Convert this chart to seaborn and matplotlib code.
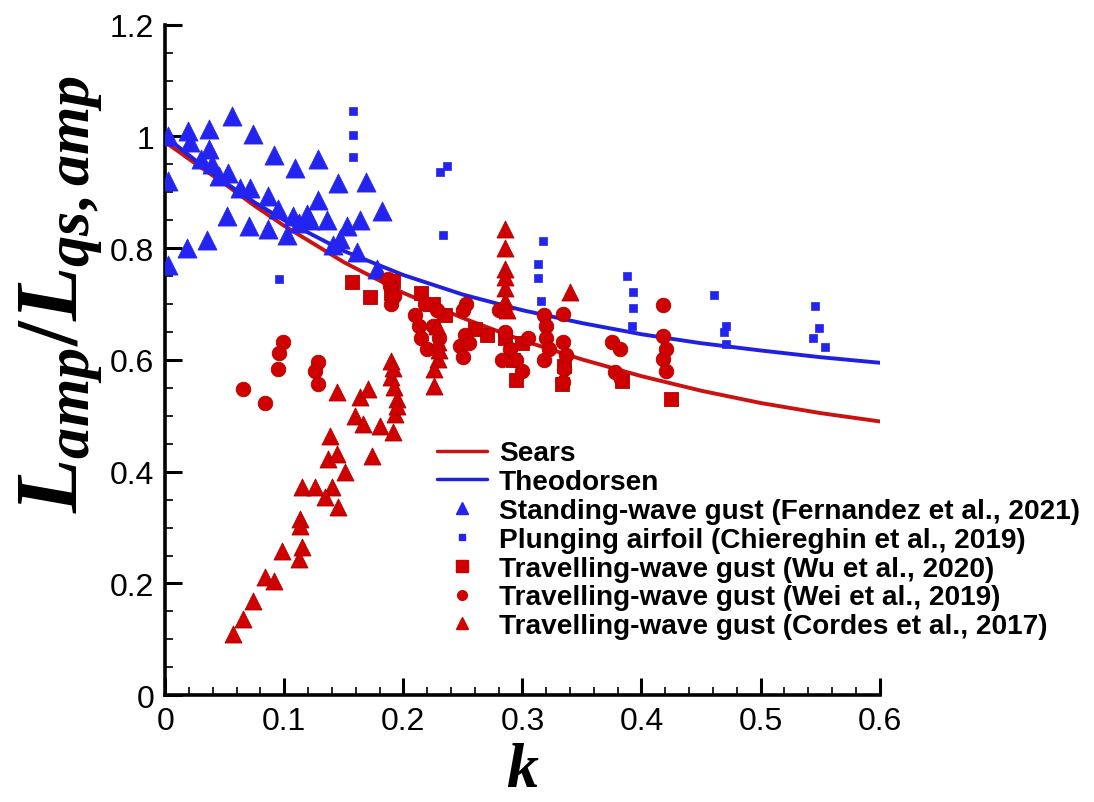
import matplotlib
matplotlib.use("Agg")
import matplotlib.pyplot as plt
import seaborn as sns
import pandas as pd
from matplotlib.lines import Line2D
from matplotlib.ticker import MultipleLocator, FormatStrFormatter

# ---------------- data ----------------
curve_k = [0.0, 0.025, 0.05, 0.075, 0.1, 0.15, 0.2, 0.25, 0.3, 0.35, 0.4, 0.45, 0.5, 0.55, 0.6]
sears_v = [0.99, 0.952, 0.915, 0.876, 0.84, 0.775, 0.72, 0.675, 0.635, 0.601, 0.571, 0.545, 0.523, 0.505, 0.49]
theo_v = [1.0, 0.958, 0.918, 0.882, 0.85, 0.795, 0.752, 0.717, 0.689, 0.666, 0.646, 0.630, 0.617, 0.605, 0.595]

fern_k = [0.002, 0.002, 0.002, 0.019, 0.021, 0.018, 0.037, 0.037, 0.035, 0.039, 0.056, 0.053, 0.052,
          0.074, 0.070, 0.063, 0.071, 0.086, 0.091, 0.086, 0.102, 0.109, 0.107, 0.119, 0.128, 0.128,
          0.136, 0.145, 0.153, 0.147, 0.164, 0.169, 0.182, 0.161, 0.178, 0.141, 0.112, 0.122, 0.030,
          0.045, 0.095]
fern_v = [1.00, 0.92, 0.77, 1.01, 0.99, 0.80, 1.014, 0.978, 0.814, 0.95, 1.036, 0.934, 0.858,
          1.005, 0.84, 0.907, 0.907, 0.835, 0.966, 0.894, 0.823, 0.943, 0.858, 0.862, 0.96, 0.886,
          0.85, 0.916, 0.84, 0.817, 0.85, 0.919, 0.867, 0.794, 0.763, 0.805, 0.845, 0.85, 0.96,
          0.93, 0.87]

chie_k = [0.158, 0.158, 0.158, 0.096, 0.231, 0.237, 0.233, 0.317, 0.313, 0.313, 0.316, 0.388, 0.393,
          0.393, 0.392, 0.461, 0.471, 0.469, 0.471, 0.546, 0.549, 0.544, 0.554]
chie_v = [1.045, 1.003, 0.964, 0.745, 0.937, 0.948, 0.824, 0.812, 0.772, 0.747, 0.706, 0.751, 0.722,
          0.693, 0.66, 0.717, 0.661, 0.65, 0.629, 0.697, 0.658, 0.64, 0.624]

wu_k = [0.157, 0.172, 0.191, 0.190, 0.215, 0.225, 0.235, 0.260, 0.270, 0.285, 0.292, 0.295, 0.300,
        0.333, 0.335, 0.384, 0.425]
wu_v = [0.74, 0.713, 0.742, 0.72, 0.72, 0.70, 0.68, 0.655, 0.645, 0.64, 0.60, 0.565, 0.63,
        0.557, 0.59, 0.563, 0.53]

wei_k = [0.065, 0.084, 0.099, 0.096, 0.095, 0.128, 0.126, 0.128, 0.189, 0.190, 0.187, 0.192,
         0.210, 0.213, 0.215, 0.220, 0.225, 0.228, 0.230, 0.218,
         0.253, 0.250, 0.252, 0.248, 0.250, 0.255,
         0.280, 0.285, 0.290, 0.295, 0.300, 0.305, 0.283,
         0.318, 0.320, 0.320, 0.322, 0.318,
         0.334, 0.334, 0.337, 0.335, 0.334,
         0.375, 0.382, 0.378, 0.383,
         0.418, 0.418, 0.421, 0.418, 0.421]
wei_v = [0.548, 0.523, 0.633, 0.613, 0.584, 0.597, 0.581, 0.557, 0.733, 0.70, 0.745, 0.715,
         0.68, 0.66, 0.64, 0.62, 0.66, 0.69, 0.64, 0.70,
         0.70, 0.69, 0.645, 0.625, 0.605, 0.63,
         0.69, 0.65, 0.62, 0.60, 0.58, 0.64, 0.60,
         0.68, 0.66, 0.64, 0.62, 0.60,
         0.683, 0.633, 0.608, 0.584, 0.561,
         0.633, 0.62, 0.579, 0.566,
         0.699, 0.642, 0.62, 0.602, 0.58]

cordes_k = [0.057, 0.065, 0.074, 0.084, 0.091, 0.098, 0.113, 0.113, 0.115, 0.112, 0.115, 0.126, 0.140,
            0.134, 0.145, 0.151, 0.137, 0.138, 0.144, 0.174, 0.144, 0.164, 0.170, 0.159, 0.166,
            0.180, 0.191, 0.190, 0.190, 0.192, 0.195, 0.193, 0.191, 0.195,
            0.229, 0.229, 0.226, 0.226, 0.228, 0.230,
            0.285, 0.285, 0.285, 0.285, 0.285, 0.285, 0.287, 0.340]
cordes_v = [0.109, 0.136, 0.168, 0.211, 0.204, 0.258, 0.315, 0.303, 0.265, 0.244, 0.373, 0.373, 0.373,
            0.355, 0.337, 0.40, 0.423, 0.464, 0.432, 0.428, 0.543, 0.534, 0.548, 0.50, 0.486,
            0.482, 0.471, 0.599, 0.57, 0.552, 0.53, 0.504, 0.585, 0.518,
            0.632, 0.602, 0.584, 0.554, 0.661, 0.618,
            0.835, 0.80, 0.763, 0.749, 0.728, 0.706, 0.69, 0.722]

labels = ["Sears", "Theodorsen",
          "Standing-wave gust (Fernandez et al., 2021)",
          "Plunging airfoil (Chiereghin et al., 2019)",
          "Travelling-wave gust (Wu et al., 2020)",
          "Travelling-wave gust (Wei et al., 2019)",
          "Travelling-wave gust (Cordes et al., 2017)"]

# ---------------- style ----------------
sns.set_style("white")
plt.rcParams["font.family"] = ["Liberation Sans", "DejaVu Sans"]
plt.rcParams["mathtext.fontset"] = "custom"
plt.rcParams["mathtext.it"] = "Liberation Serif:italic:bold"
plt.rcParams["mathtext.rm"] = "Liberation Serif:bold"
plt.rcParams["mathtext.bf"] = "Liberation Serif:bold"
plt.rcParams["text.color"] = "black"
plt.rcParams["axes.labelcolor"] = "black"
plt.rcParams["xtick.color"] = "black"
plt.rcParams["ytick.color"] = "black"

RED = "#D00000"
BLUE = "#2424F0"
RED_LINE = "#CC1111"
BLUE_LINE = "#2020E0"

fig = plt.figure(figsize=(10.94, 8.03), dpi=100)
ax = fig.add_axes([0.151, 0.133, 0.653, 0.835])

curves = pd.DataFrame({"k": curve_k + curve_k,
                       "v": sears_v + theo_v,
                       "name": ["Sears"] * len(curve_k) + ["Theodorsen"] * len(curve_k)})

sns.lineplot(data=curves[curves.name == "Sears"], x="k", y="v", color=RED_LINE, lw=2.8, ax=ax,
             legend=False, zorder=2)
sns.lineplot(data=curves[curves.name == "Theodorsen"], x="k", y="v", color=BLUE_LINE, lw=2.8, ax=ax,
             legend=False, zorder=2)

sns.scatterplot(x=fern_k, y=fern_v, marker="^", s=190, color=BLUE, edgecolor=BLUE, linewidth=0.5,
                ax=ax, zorder=3)
sns.scatterplot(x=chie_k, y=chie_v, marker="s", s=40, color=BLUE, edgecolor=BLUE, linewidth=0.5,
                ax=ax, zorder=3)
sns.scatterplot(x=wu_k, y=wu_v, marker="s", s=110, color=RED, edgecolor="#B00000", linewidth=0.6,
                ax=ax, zorder=3)
sns.scatterplot(x=wei_k, y=wei_v, marker="o", s=110, color=RED, edgecolor="#B00000", linewidth=0.6,
                ax=ax, zorder=3)
sns.scatterplot(x=cordes_k, y=cordes_v, marker="^", s=150, color=RED, edgecolor="#B00000", linewidth=0.6,
                ax=ax, zorder=3)

ax.set_xlim(0, 0.6)
ax.set_ylim(0, 1.2)
ax.xaxis.set_major_locator(MultipleLocator(0.1))
ax.xaxis.set_minor_locator(MultipleLocator(0.02))
ax.yaxis.set_major_locator(MultipleLocator(0.2))
ax.yaxis.set_minor_locator(MultipleLocator(0.05))
ax.xaxis.set_major_formatter(FormatStrFormatter("%g"))
ax.yaxis.set_major_formatter(FormatStrFormatter("%g"))
ax.tick_params(which="major", direction="in", length=12, width=2.2, labelsize=23, pad=8,
               bottom=True, left=True, top=False, right=False, colors="black")
ax.tick_params(which="minor", direction="in", length=6, width=1.2,
               bottom=True, left=True, top=False, right=False, colors="black")
for sp in ["top", "right"]:
    ax.spines[sp].set_visible(False)
for sp in ["left", "bottom"]:
    ax.spines[sp].set_linewidth(2.6)
    ax.spines[sp].set_color("black")

ax.set_xlabel(r"$k$", fontsize=46, color="black")
ax.xaxis.set_label_coords(0.5, -0.066)
ax.set_ylabel(r"$L_{amp}/L_{qs,amp}$", fontsize=64, color="black")
ax.yaxis.set_label_coords(-0.085, 0.6)

handles = [
    Line2D([], [], color=RED_LINE, lw=2.5),
    Line2D([], [], color=BLUE_LINE, lw=2.5),
    Line2D([], [], color=BLUE, marker="^", ls="", markersize=8),
    Line2D([], [], color=BLUE, marker="s", ls="", markersize=5),
    Line2D([], [], color=RED, marker="s", ls="", markersize=8),
    Line2D([], [], color=RED, marker="o", ls="", markersize=7),
    Line2D([], [], color=RED, marker="^", ls="", markersize=8),
]
leg = ax.legend(handles, labels, loc="upper left", bbox_to_anchor=(0.38, 0.38), frameon=False,
                prop={"weight": "bold", "size": 20.2}, handlelength=1.8, handletextpad=0.42,
                labelspacing=0.1, borderaxespad=0, borderpad=0)
for t in leg.get_texts():
    t.set_color("black")

fig.savefig("out.png", dpi=100)
